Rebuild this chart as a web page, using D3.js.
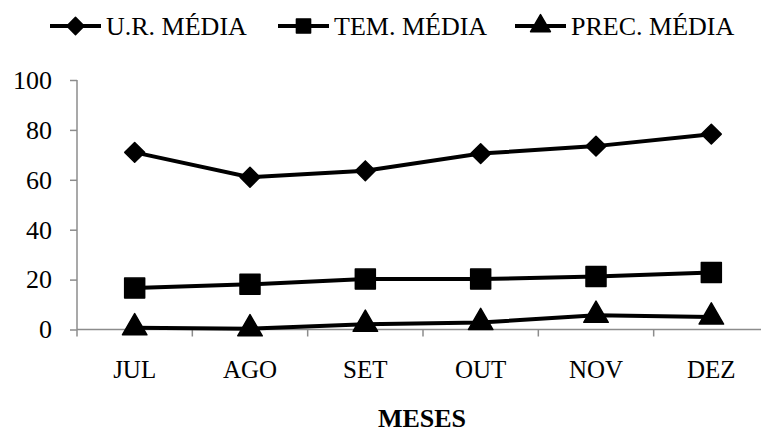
<!DOCTYPE html>
<html><head><meta charset="utf-8">
<script src="https://cdn.jsdelivr.net/npm/d3@7/dist/d3.min.js"></script>
<style>body{margin:0;background:#fff}svg{display:block}text{font-family:"Liberation Serif","Times New Roman",serif;fill:#000}</style>
</head><body>
<svg id="c" width="761" height="432"></svg>
<script>
const months = ["JUL","AGO","SET","OUT","NOV","DEZ"];
const urMedia = [71.0, 61.0, 63.6, 70.5, 73.5, 78.3];
const temMedia = [16.6, 18.1, 20.2, 20.2, 21.2, 22.8];
const precMedia = [0.7, 0.3, 2.1, 2.8, 5.7, 5.0];
const yTicks = [0,20,40,60,80,100];
const seriesNames = ["U.R. MÉDIA","TEM. MÉDIA","PREC. MÉDIA"];
const xTitle = "MESES";

const svg = d3.select("#c");
const x = d3.scaleBand().domain(months).range([77, 769]);
const y = d3.scaleLinear().domain([0,100]).range([329.5, 80]);
const axisCol = "#8c8c8c";

// y axis
const ya = svg.append("g").attr("transform","translate(77,0)")
  .call(d3.axisLeft(y).tickValues(yTicks).tickSize(7).tickPadding(18));
ya.selectAll("path,line").attr("stroke",axisCol).attr("stroke-width",1.5);
ya.selectAll("text").attr("font-size",26).attr("font-family","Liberation Serif").attr("fill","#000");
ya.select(".domain").attr("d","M0,80V329.5");

// x axis
const xa = svg.append("g").attr("transform","translate(0,329.5)")
  .call(d3.axisBottom(x).tickSize(0));
xa.select(".domain").attr("stroke",axisCol).attr("stroke-width",1.5).attr("d","M77,0H769");
xa.selectAll("text").attr("font-size",25).attr("font-family","Liberation Serif").attr("fill","#000")
  .attr("y",48).attr("dy",0);
xa.selectAll(".bt").data(months).enter().append("line")
  .attr("x1",d=>x(d)+x.bandwidth()).attr("x2",d=>x(d)+x.bandwidth())
  .attr("y1",0).attr("y2",7).attr("stroke",axisCol).attr("stroke-width",1.5);
xa.append("line").attr("x1",77).attr("x2",77).attr("y1",0).attr("y2",7).attr("stroke",axisCol).attr("stroke-width",1.5);

svg.append("text").attr("x",422).attr("y",427).attr("text-anchor","middle")
  .attr("font-size",26).attr("font-weight","bold").text(xTitle);

const cx = d => x(d) + x.bandwidth()/2;
const line = d3.line().x((d,i)=>cx(months[i])).y(d=>y(d));
const symbols = [
  d3.symbol().type(d3.symbolDiamond2).size(250),
  d3.symbol().type(d3.symbolSquare).size(400),
  d3.symbol().type(d3.symbolTriangle).size(260)
];
const legSymbols = [
  d3.symbol().type(d3.symbolDiamond2).size(190),
  d3.symbol().type(d3.symbolSquare).size(200),
  d3.symbol().type(d3.symbolTriangle).size(170)
];
const data = [urMedia, temMedia, precMedia];
data.forEach((vals,k)=>{
  svg.append("path").attr("d",line(vals)).attr("fill","none").attr("stroke","#000").attr("stroke-width",4);
  svg.selectAll(".m"+k).data(vals).enter().append("path")
    .attr("transform",(d,i)=>`translate(${cx(months[i])},${y(d)})`)
    .attr("d",symbols[k]()).attr("fill","#000").attr("stroke","#000").attr("stroke-width",1.5).attr("stroke-linejoin","round");
});

// legend
const legX = [50, 278, 515];
seriesNames.forEach((n,k)=>{
  const g = svg.append("g").attr("transform",`translate(${legX[k]},26)`);
  g.append("line").attr("x1",0).attr("x2",51).attr("y1",0).attr("y2",0).attr("stroke","#000").attr("stroke-width",4);
  g.append("path").attr("transform","translate(25.5,0)").attr("d",legSymbols[k]()).attr("fill","#000").attr("stroke","#000").attr("stroke-width",1.5).attr("stroke-linejoin","round");
  g.append("text").attr("x",56).attr("y",9).attr("font-size",26).text(n);
});
</script>
</body></html>
